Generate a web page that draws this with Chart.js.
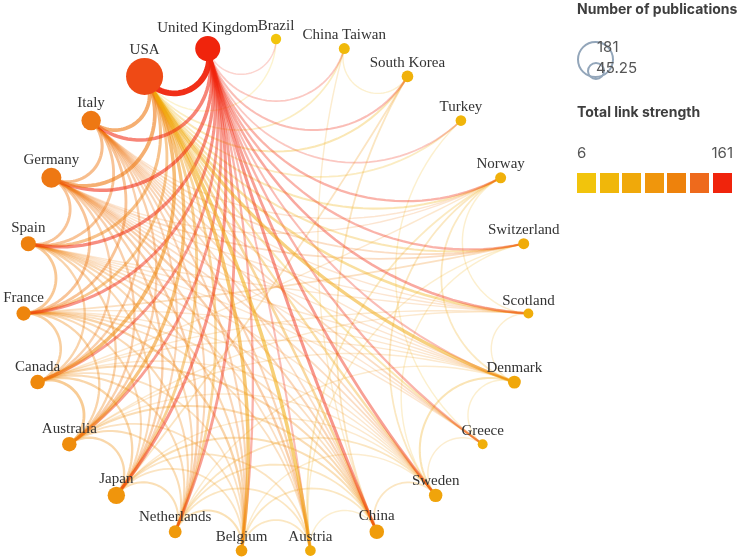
<!DOCTYPE html>
<html>
<head>
<meta charset="utf-8">
<script src="https://cdn.jsdelivr.net/npm/chart.js@4.4.0/dist/chart.umd.min.js"></script>
<style>
  body { margin: 0; background: #fff; width: 750px; height: 558px; overflow: hidden; position: relative; }
  #wrap { position: absolute; left: 0; top: 0; width: 750px; height: 558px; }
  .lg { position: absolute; font-family: Inter, "Noto Sans", sans-serif; color: #444; }
  .title { font-weight: 700; font-size: 14px; color: #3e3e3e; }
  .num { font-size: 15px; color: #555; }
  .ring { position: absolute; border: 2px solid #93a6ba; border-radius: 50%; box-sizing: border-box; }
  #swatches { position: absolute; left: 577px; top: 173px; display: flex; gap: 3.6px; }
  #swatches div { width: 19px; height: 20px; }
</style>
</head>
<body>
<div id="wrap"><canvas id="chart"></canvas></div>

<div class="lg title" style="left:577px; top:0px;">Number of publications</div>
<div class="ring" style="left:577px; top:41px; width:37px; height:37px;"></div>
<div class="ring" style="left:587px; top:62px; width:18px; height:18px;"></div>
<div class="lg num" style="left:597px; top:37px;">181</div>
<div class="lg num" style="left:596px; top:58px;">45.25</div>

<div class="lg title" style="left:577px; top:103px;">Total link strength</div>
<div class="lg num" style="left:577px; top:143px;">6</div>
<div class="lg num" style="left:703px; top:143px; width:30px; text-align:right;">161</div>
<div id="swatches"></div>

<script>
// nodes, clockwise from USA
const countries = ['USA', 'United Kingdom', 'Brazil', 'China Taiwan', 'South Korea', 'Turkey', 'Norway',
    'Switzerland', 'Scotland', 'Denmark', 'Greece', 'Sweden', 'China', 'Austria', 'Belgium',
    'Netherlands', 'Japan', 'Australia', 'Canada', 'France', 'Spain', 'Germany', 'Italy'];
const publications = [181, 83, 14, 16, 18, 15, 16, 16, 13, 22, 13, 24, 28, 15, 18, 22, 40, 28, 28, 27, 30, 53, 50];
const linkStrength = [147, 161, 6, 28, 42, 35, 45, 52, 50, 60, 48, 65, 75, 55, 72, 78, 85, 95, 100, 105, 112, 120, 120];

const strengthRange = [6, 161];
const palette = ['#f2c40c', '#f0b70a', '#f0a90a', '#f0960c', '#ee820c', '#ee6a1c', '#f0240c'];

// links: [from, to, weight] -- link takes the colour of "from"
const links = [
    ['United Kingdom', 'USA', 20],
    ['Italy', 'USA', 10], ['Germany', 'USA', 10], ['Spain', 'USA', 7], ['France', 'USA', 6],
    ['Canada', 'USA', 9], ['Australia', 'USA', 8], ['Japan', 'USA', 6], ['Netherlands', 'USA', 5],
    ['Belgium', 'USA', 9], ['Austria', 'USA', 9], ['China', 'USA', 5], ['Sweden', 'USA', 4],
    ['Greece', 'USA', 3], ['Denmark', 'USA', 8], ['Scotland', 'USA', 5], ['Switzerland', 'USA', 3],
    ['Norway', 'USA', 3], ['Turkey', 'USA', 2], ['South Korea', 'USA', 3], ['China Taiwan', 'USA', 2],
    ['Brazil', 'USA', 1],
    ['United Kingdom', 'Italy', 9], ['United Kingdom', 'Germany', 9], ['United Kingdom', 'Spain', 8],
    ['United Kingdom', 'France', 7], ['United Kingdom', 'Canada', 6], ['United Kingdom', 'Australia', 6],
    ['United Kingdom', 'Japan', 7], ['United Kingdom', 'Netherlands', 6], ['United Kingdom', 'Belgium', 4],
    ['United Kingdom', 'Austria', 3], ['United Kingdom', 'China', 7], ['United Kingdom', 'Sweden', 6],
    ['United Kingdom', 'Greece', 4], ['United Kingdom', 'Denmark', 3], ['United Kingdom', 'Scotland', 5],
    ['United Kingdom', 'Switzerland', 4], ['United Kingdom', 'Norway', 4], ['United Kingdom', 'Turkey', 2],
    ['United Kingdom', 'South Korea', 3], ['United Kingdom', 'China Taiwan', 2], ['United Kingdom', 'Brazil', 1],
    ['Italy', 'Germany', 7], ['Italy', 'Spain', 6], ['Italy', 'France', 6], ['Italy', 'Canada', 4],
    ['Italy', 'Australia', 4], ['Italy', 'Japan', 3], ['Italy', 'Netherlands', 3], ['Italy', 'Belgium', 3],
    ['Italy', 'Austria', 3], ['Italy', 'China', 2], ['Italy', 'Sweden', 2], ['Italy', 'Greece', 2],
    ['Italy', 'Switzerland', 2], ['Italy', 'Norway', 1], ['Italy', 'Denmark', 1], ['Italy', 'Scotland', 1],
    ['Germany', 'Spain', 6], ['Germany', 'France', 6], ['Germany', 'Canada', 4], ['Germany', 'Australia', 4],
    ['Germany', 'Japan', 4], ['Germany', 'Netherlands', 4], ['Germany', 'Belgium', 3], ['Germany', 'Austria', 4],
    ['Germany', 'China', 3], ['Germany', 'Sweden', 2], ['Germany', 'Switzerland', 2], ['Germany', 'Denmark', 1],
    ['Germany', 'Norway', 1], ['Germany', 'Greece', 1], ['Germany', 'Scotland', 1],
    ['Spain', 'France', 6], ['Spain', 'Canada', 4], ['Spain', 'Australia', 4], ['Spain', 'Japan', 3],
    ['Spain', 'Netherlands', 3], ['Spain', 'Belgium', 3], ['Spain', 'Austria', 2], ['Spain', 'China', 2],
    ['Spain', 'Sweden', 1], ['Spain', 'Greece', 1], ['Spain', 'Denmark', 1], ['Spain', 'Scotland', 1],
    ['France', 'Canada', 5], ['France', 'Australia', 4], ['France', 'Japan', 3], ['France', 'Netherlands', 3],
    ['France', 'Belgium', 4], ['France', 'Austria', 2], ['France', 'China', 2], ['France', 'Sweden', 1],
    ['France', 'Switzerland', 2], ['France', 'Denmark', 1],
    ['Canada', 'Australia', 6], ['Canada', 'Japan', 4], ['Canada', 'Netherlands', 3], ['Canada', 'Belgium', 2],
    ['Canada', 'China', 3], ['Canada', 'Sweden', 1], ['Canada', 'Scotland', 1], ['Canada', 'Norway', 1],
    ['Canada', 'Denmark', 1],
    ['Australia', 'Japan', 4], ['Australia', 'Netherlands', 3], ['Australia', 'China', 3], ['Australia', 'Sweden', 1],
    ['Australia', 'Belgium', 2], ['Australia', 'Denmark', 1], ['Australia', 'Scotland', 1],
    ['Japan', 'Netherlands', 3], ['Japan', 'China', 3], ['Japan', 'Belgium', 2], ['Japan', 'Austria', 2],
    ['Japan', 'South Korea', 2], ['Japan', 'Sweden', 1],
    ['Netherlands', 'Belgium', 3], ['Netherlands', 'Austria', 2], ['Netherlands', 'Sweden', 2],
    ['Netherlands', 'Denmark', 1], ['Netherlands', 'China', 2],
    ['Belgium', 'Austria', 2], ['Belgium', 'China', 2], ['Belgium', 'Sweden', 1],
    ['Austria', 'China', 1], ['Austria', 'Norway', 2], ['Austria', 'Switzerland', 1],
    ['China', 'Sweden', 2], ['China', 'South Korea', 2], ['China', 'China Taiwan', 1],
    ['Sweden', 'Denmark', 3], ['Sweden', 'Norway', 2], ['Sweden', 'Greece', 1],
    ['Greece', 'Denmark', 1], ['Denmark', 'Norway', 2], ['Denmark', 'Scotland', 1],
    ['Scotland', 'Norway', 1], ['Switzerland', 'Sweden', 1], ['Turkey', 'Greece', 1],
    ['South Korea', 'China Taiwan', 1]
];

const startAngle = -31.3; // degrees clockwise from top for the first node
const maxRadius = 18.5;   // px, bubble radius of the biggest node

function hexToRgb(h) {
    return [parseInt(h.slice(1, 3), 16), parseInt(h.slice(3, 5), 16), parseInt(h.slice(5, 7), 16)];
}

function strengthColor(v, alpha) {
    let t = (v - strengthRange[0]) / (strengthRange[1] - strengthRange[0]);
    t = Math.max(0, Math.min(1, t)) * (palette.length - 1);
    let i = Math.min(palette.length - 2, Math.floor(t));
    let f = t - i;
    let a = hexToRgb(palette[i]), b = hexToRgb(palette[i + 1]);
    let c = a.map((x, k) => Math.round(x + (b[k] - x) * f));
    return 'rgba(' + c[0] + ',' + c[1] + ',' + c[2] + ',' + (alpha === undefined ? 1 : alpha) + ')';
}

function nodeAngle(i) {
    return (startAngle + i * 360 / countries.length) * Math.PI / 180;
}

// legend swatches
let sw = document.getElementById('swatches');
palette.forEach(c => {
    let d = document.createElement('div');
    d.style.background = c;
    sw.appendChild(d);
});

let nodes = countries.map((name, i) => ({
    x: Math.sin(nodeAngle(i)),
    y: Math.cos(nodeAngle(i)),
    r: maxRadius * Math.sqrt(publications[i] / publications[0])
}));

// points along the arc between two nodes (arc orthogonal to the ring)
function arcPoints(i, j) {
    let a1 = Math.PI / 2 - nodeAngle(i);
    let a2 = Math.PI / 2 - nodeAngle(j);
    let p1 = [Math.cos(a1), Math.sin(a1)], p2 = [Math.cos(a2), Math.sin(a2)];
    let d = a2 - a1;
    while (d > Math.PI) d -= 2 * Math.PI;
    while (d < -Math.PI) d += 2 * Math.PI;
    let half = Math.abs(d) / 2;
    if (Math.cos(half) < 0.02) return [p1, p2];
    let mid = a1 + d / 2;
    let dist = 1 / Math.cos(half), rad = Math.tan(half);
    let c = [Math.cos(mid) * dist, Math.sin(mid) * dist];
    let s = Math.atan2(p1[1] - c[1], p1[0] - c[0]);
    let e = Math.atan2(p2[1] - c[1], p2[0] - c[0]);
    let sweep = e - s;
    while (sweep > Math.PI) sweep -= 2 * Math.PI;
    while (sweep < -Math.PI) sweep += 2 * Math.PI;
    let pts = [];
    for (let k = 0; k <= 40; k++) {
        let t = s + sweep * k / 40;
        pts.push([c[0] + rad * Math.cos(t), c[1] + rad * Math.sin(t)]);
    }
    return pts;
}

const linkPlugin = {
    id: 'links',
    beforeDatasetsDraw(chart) {
        let ctx = chart.ctx, xs = chart.scales.x, ys = chart.scales.y;
        let maxW = Math.max(...links.map(l => l[2]));
        let sorted = links.slice().sort((a, b) => a[2] - b[2]);
        ctx.save();
        ctx.lineCap = 'round';
        sorted.forEach(l => {
            let i = countries.indexOf(l[0]), j = countries.indexOf(l[1]);
            let w = l[2] / maxW;
            let pts = arcPoints(i, j);
            ctx.beginPath();
            pts.forEach((p, k) => {
                let px = xs.getPixelForValue(p[0]), py = ys.getPixelForValue(p[1]);
                if (k === 0) ctx.moveTo(px, py); else ctx.lineTo(px, py);
            });
            ctx.strokeStyle = strengthColor(linkStrength[i], 0.12 + 0.83 * Math.pow(w, 0.8));
            ctx.lineWidth = 1 + 4.8 * Math.pow(w, 0.8);
            ctx.stroke();
        });
        // small white hub in the middle
        ctx.beginPath();
        ctx.arc(xs.getPixelForValue(0), ys.getPixelForValue(0), 6, 0, Math.PI * 2);
        ctx.fillStyle = 'rgba(255,255,255,0.9)';
        ctx.fill();
        ctx.restore();
    }
};

const labelPlugin = {
    id: 'nodeLabels',
    afterDatasetsDraw(chart) {
        let ctx = chart.ctx, xs = chart.scales.x, ys = chart.scales.y;
        ctx.save();
        ctx.font = '15px "Liberation Serif", "Times New Roman", serif';
        ctx.fillStyle = '#333';
        ctx.textAlign = 'center';
        ctx.textBaseline = 'alphabetic';
        nodes.forEach((n, i) => {
            ctx.fillText(countries[i], xs.getPixelForValue(n.x), ys.getPixelForValue(n.y) - n.r - 4);
        });
        ctx.restore();
    }
};

// ring centre (276, 296) px, radii 253 x 257 px
let canvas = document.getElementById('chart');
let chart = new Chart(canvas, {
    type: 'bubble',
    data: {
        datasets: [{
            label: 'Countries',
            data: nodes,
            backgroundColor: linkStrength.map(v => strengthColor(v)),
            borderWidth: 0,
            hoverRadius: 0,
            clip: false
        }]
    },
    options: {
        responsive: true,
        maintainAspectRatio: false,
        animation: false,
        events: [],
        layout: { padding: 0, autoPadding: false },
        plugins: { legend: { display: false }, tooltip: { enabled: false } },
        scales: {
            x: { type: 'linear', display: false, min: -276 / 253, max: 474 / 253 },
            y: { type: 'linear', display: false, min: -262 / 257, max: 296 / 257 }
        }
    },
    plugins: [linkPlugin, labelPlugin]
});
</script>
</body>
</html>
